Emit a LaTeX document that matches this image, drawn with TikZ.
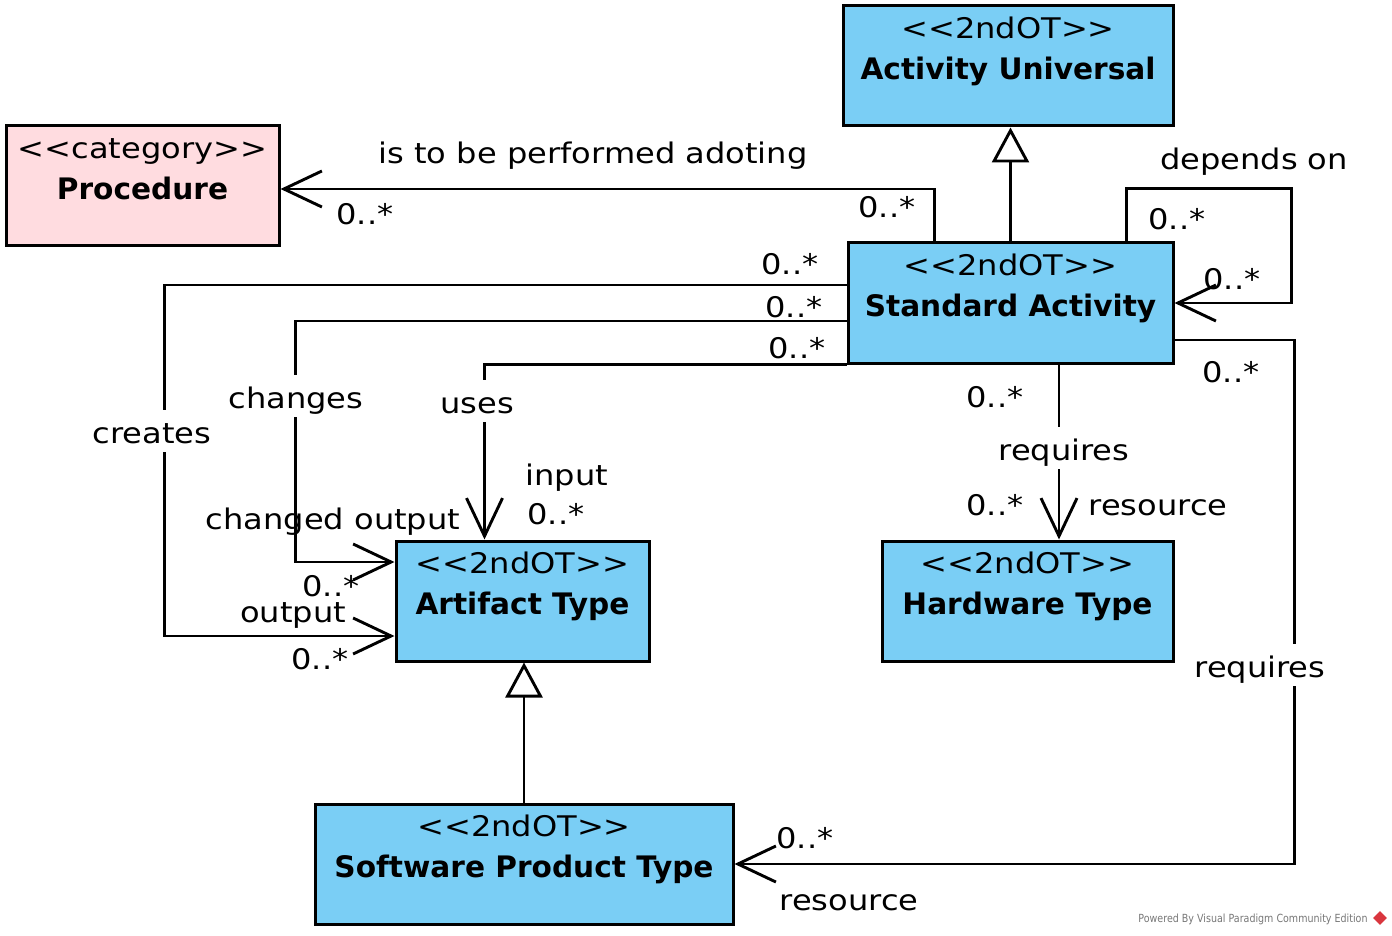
\documentclass[tikz,border=0pt]{standalone}
\usepackage{fontspec}
\usetikzlibrary{arrows.meta,calc,shapes.geometric}
\newfontfamily\regf{DejaVu Sans}[FakeStretch=1.13]
\newfontfamily\boldf{DejaVu Sans}
\newfontfamily\wmf{DejaVu Sans}[FakeStretch=0.85]
\definecolor{clsblue}{HTML}{7ACEF5}
\definecolor{catpink}{HTML}{FFDCE0}
\definecolor{wmgray}{HTML}{777777}
\definecolor{wmred}{HTML}{D9363E}
\tikzset{
 box/.style={draw=black, line width=1.5pt, rectangle, inner sep=0pt, minimum height=60pt},
 cls/.style={box, fill=clsblue},
 cat/.style={box, fill=catpink},
 stereo/.style={font=\regf\fontsize{14.2}{16}\selectfont, inner sep=0pt, anchor=base},
 cname/.style={font=\boldf\bfseries\fontsize{14.8}{17}\selectfont, inner sep=0pt, anchor=base},
 lab/.style={font=\regf\fontsize{14.2}{16}\selectfont, inner sep=0pt, anchor=base},
 midlab/.style={lab, fill=white, text height=16.5pt, text depth=4.5pt, inner xsep=2pt},
 assoc/.style={line width=1.45pt, -{Straight Barb[length=19pt,width=18pt]}},
 gen/.style={line width=1.45pt, -{Triangle[length=17.5pt,width=18.5pt,fill=white]}},
}
\begin{document}
\begin{tikzpicture}[x=0.5pt,y=-0.5pt]
\useasboundingbox (0,0) rectangle (1392,936);
% class boxes
\node[cls, minimum width=165pt] (AU) at (1008,66) {};
\node[cat, minimum width=136.5pt] (Proc) at (142.5,186) {};
\node[cls, minimum width=162.5pt] (SA) at (1010.5,303) {};
\node[cls, minimum width=126.5pt] (Art) at (522.5,601) {};
\node[cls, minimum width=145.5pt] (HW) at (1027.5,601) {};
\node[cls, minimum width=209pt] (SW) at (524,864) {};
% box texts
\node[stereo] (AUs) at ($(AU.north)+(0,34)$) {<<2ndOT>>};
\node[cname] (AUn) at ($(AU.north)+(0,75)$) {Activity Universal};
\node[stereo] (Procs) at ($(Proc.north)+(0,34)$) {<<category>>};
\node[cname] (Procn) at ($(Proc.north)+(0,75)$) {Procedure};
\node[stereo] (SAs) at ($(SA.north)+(0,34)$) {<<2ndOT>>};
\node[cname] (SAn) at ($(SA.north)+(0,75)$) {Standard Activity};
\node[stereo] (Arts) at ($(Art.north)+(0,34)$) {<<2ndOT>>};
\node[cname] (Artn) at ($(Art.north)+(0,75)$) {Artifact Type};
\node[stereo] (HWs) at ($(HW.north)+(0,34)$) {<<2ndOT>>};
\node[cname] (HWn) at ($(HW.north)+(0,75)$) {Hardware Type};
\node[stereo] (SWs) at ($(SW.north)+(0,34)$) {<<2ndOT>>};
\node[cname] (SWn) at ($(SW.north)+(0,75)$) {Software Product Type};
% generalizations
\draw[gen] (SA.north) -- (SA.north |- AU.south);
\draw[gen] (SW.north) -- (SW.north |- Art.south);
% associations
\coordinate (isA) at ($(SA.north west)+(88,0)$);
\draw[assoc] (isA) |- ($(Proc.east)+(0,3)$);
\coordinate (depA) at ($(SA.north west)+(280,0)$);
\coordinate (depB) at ($(depA)+(165,-53)$);
\draw[assoc] (depA) |- (depB) |- (SA.east);
\coordinate (rqA) at ($(SA.east)+(0,37)$);
\coordinate (rqB) at ($(rqA)+(120,0)$);
\draw[assoc] (rqA) -- (rqB) |- (SW.east);
\coordinate (hwA) at ($(SA.south)+(48.5,0)$);
\draw[assoc] (hwA) -- (hwA |- HW.north);
\coordinate (usB) at ($(Art.north west)+(90,0)$);
\draw[assoc] (SA.south west) -| (usB);
\coordinate (chA) at ($(SA.west)+(0,18)$);
\coordinate (chB) at ($(chA)+(-551,0)$);
\draw[assoc] (chA) -- (chB) |- ($(Art.west)+(0,-39)$);
\coordinate (crA) at ($(SA.west)+(0,-18)$);
\coordinate (crB) at ($(crA)+(-682,0)$);
\draw[assoc] (crA) -- (crB) |- ($(Art.west)+(0,35)$);
% labels
\node[lab] (l1) at (593,164) {is to be performed adoting};
\node[lab] (l2) at (365,225) {0..*};
\node[lab] (l3) at (887,218) {0..*};
\node[lab] (l4) at (1254,170) {depends on};
\node[lab] (l5) at (1177,230) {0..*};
\node[lab] (l6) at (1232,290) {0..*};
\node[lab] (l7) at (790,275) {0..*};
\node[lab] (l8) at (794,317) {0..*};
\node[lab] (l9) at (797,358) {0..*};
\node[lab] (l10) at (1231,382) {0..*};
\node[lab] (l11) at (995,407) {0..*};
\node[midlab] (l12) at (1064,460) {requires};
\node[lab] (l13) at (995,515) {0..*};
\node[lab] (l14) at (1158,515) {resource};
\node[midlab] (l15) at (296,408) {changes};
\node[midlab] (l16) at (477,413) {uses};
\node[midlab] (l17) at (152,443) {creates};
\node[lab] (l18) at (567,485) {input};
\node[lab] (l19) at (556,524) {0..*};
\node[lab] (l20) at (333,529) {changed output};
\node[lab] (l21) at (331,596) {0..*};
\node[lab] (l22) at (293,622) {output};
\node[lab] (l23) at (320,669) {0..*};
\node[midlab] (l24) at (1260,677) {requires};
\node[lab] (l25) at (805,848) {0..*};
\node[lab] (l26) at (849,910) {resource};
% watermark
\node[font=\wmf\fontsize{5.6}{6}\selectfont, text=wmgray, anchor=base, inner sep=0pt] (wm) at (1253,922) {Powered By Visual Paradigm Community Edition};
\node[diamond, fill=wmred, minimum size=7pt, inner sep=0pt] (wmicon) at (1380,918) {};
\end{tikzpicture}
\end{document}
